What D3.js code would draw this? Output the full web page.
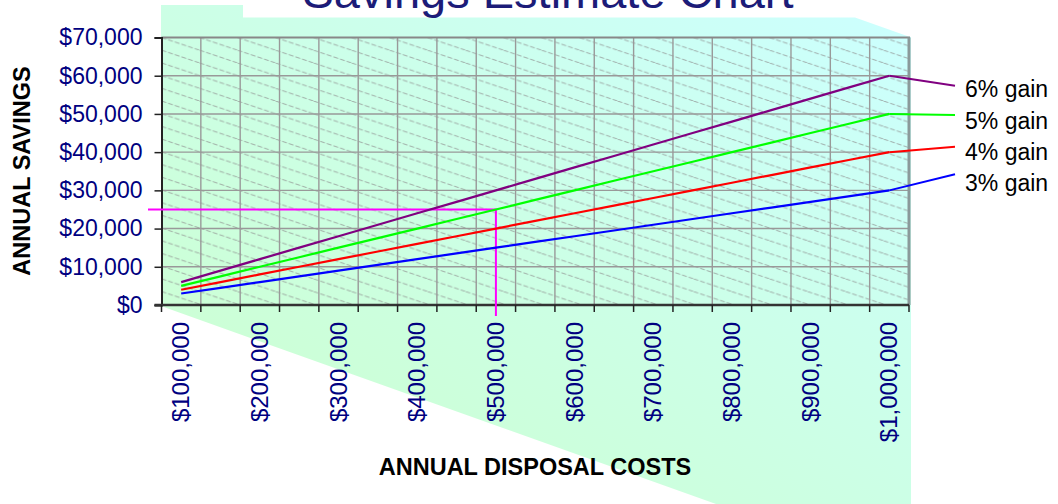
<!DOCTYPE html>
<html><head><meta charset="utf-8">
<script src="https://cdn.jsdelivr.net/npm/d3@7"></script>
<style>body{margin:0;background:#fff;} svg{display:block;font-family:Arial,"Liberation Sans",sans-serif;}</style>
</head><body><svg id="c" width="1058" height="504"></svg>
<script>
// ---- data ----
const categories = [100000,150000,200000,250000,300000,350000,400000,450000,500000,550000,600000,650000,700000,750000,800000,850000,900000,950000,1000000];
const gain3 = [3000,4500,6000,7500,9000,10500,12000,13500,15000,16500,18000,19500,21000,22500,24000,25500,27000,28500,30000];
const gain4 = [4000,6000,8000,10000,12000,14000,16000,18000,20000,22000,24000,26000,28000,30000,32000,34000,36000,38000,40000];
const gain5 = [5000,7500,10000,12500,15000,17500,20000,22500,25000,27500,30000,32500,35000,37500,40000,42500,45000,47500,50000];
const gain6 = [6000,9000,12000,15000,18000,21000,24000,27000,30000,33000,36000,39000,42000,45000,48000,51000,54000,57000,60000];
const seriesNames = ["6% gain","5% gain","4% gain","3% gain"];
const yTickValues = [0,10000,20000,30000,40000,50000,60000,70000];
const xTickLabels = ["$100,000","","$200,000","","$300,000","","$400,000","","$500,000","","$600,000","","$700,000","","$800,000","","$900,000","","$1,000,000"];
const markerCost = 500000, markerSaving = 25000;
const titleText = "Savings Estimate Chart";
const xTitle = "ANNUAL DISPOSAL COSTS", yTitle = "ANNUAL SAVINGS";

// ---- layout ----
const L = 161.5, R = 909, T = 37.5, B = 305;
const svg = d3.select("#c");
const x = d3.scaleBand().domain(categories).range([L, R]).padding(0);
const y = d3.scaleLinear().domain([0, 70000]).range([B, T]);
const cx = d => x(d) + x.bandwidth()/2;

const defs = svg.append("defs");
const grad = defs.append("linearGradient").attr("id","bg").attr("x1",0).attr("y1",1).attr("x2",1).attr("y2",0);
grad.append("stop").attr("offset","0%").attr("stop-color","#ccffcc");
grad.append("stop").attr("offset","100%").attr("stop-color","#ccffff");
const pat = defs.append("pattern").attr("id","hatch").attr("patternUnits","userSpaceOnUse")
  .attr("width",38).attr("height",12.7).attr("x",L).attr("y",T);
pat.append("line").attr("x1",0).attr("y1",0).attr("x2",38).attr("y2",12.7)
  .attr("stroke","#8f8f8f").attr("stroke-width",0.75).attr("stroke-dasharray","5 2");

// background shape
svg.append("path").attr("fill","url(#bg)")
  .attr("d","M161,5 L243,5 L243,17.5 L855,17.5 L910,37 L911,37 L911,504 L716,504 L161,306 Z");

// hatch in plot
svg.append("rect").attr("x",L).attr("y",T).attr("width",R-L).attr("height",B-T).attr("fill","url(#hatch)");

// title
svg.append("text").attr("x",548).attr("y",8).attr("text-anchor","middle")
  .attr("font-size",47).attr("fill","#1c1c78").text(titleText);

// gridlines
const g = svg.append("g");
const bounds = categories.map(c => x(c)).concat([R]);
g.selectAll(".vg").data(bounds.slice(1,-1)).join("line")
  .attr("x1",d=>d).attr("x2",d=>d).attr("y1",T).attr("y2",B)
  .attr("stroke","#999").attr("stroke-width",1.4);
g.selectAll(".hg").data(yTickValues.slice(1,-1)).join("line")
  .attr("x1",L).attr("x2",R).attr("y1",d=>y(d)).attr("y2",d=>y(d))
  .attr("stroke","#999").attr("stroke-width",1.4);
// borders
svg.append("line").attr("x1",L).attr("x2",R+1).attr("y1",T).attr("y2",T).attr("stroke","#888").attr("stroke-width",2);
svg.append("line").attr("x1",R).attr("x2",R).attr("y1",T).attr("y2",B).attr("stroke","#8a9a9a").attr("stroke-width",3);

// axes
const yAxis = d3.axisLeft(y).tickValues(yTickValues).tickSize(7).tickPadding(12)
  .tickFormat(d => "$" + d3.format(",")(d));
const ya = svg.append("g").attr("transform",`translate(${L},0)`).call(yAxis);
ya.select(".domain").attr("stroke","#222").attr("stroke-width",2);
ya.selectAll(".tick line").attr("stroke","#222").attr("stroke-width",1.5);
ya.selectAll(".tick text").attr("font-size",23).attr("fill","#000080").attr("font-family","Arial, Liberation Sans, sans-serif");

const xb = svg.append("g");
xb.append("line").attr("x1",L-7).attr("x2",R).attr("y1",B).attr("y2",B).attr("stroke","#333").attr("stroke-width",2.5);
xb.selectAll(".xt").data(bounds).join("line")
  .attr("x1",d=>d).attr("x2",d=>d).attr("y1",B).attr("y2",B+7).attr("stroke","#222").attr("stroke-width",1.5);
xb.selectAll(".xl").data(categories).join("text")
  .attr("transform",d=>`translate(${cx(d)+8},${B+17}) rotate(-90)`)
  .attr("text-anchor","end").attr("font-size",24).attr("fill","#000080")
  .text((d,i)=>xTickLabels[i]);

// axis titles
svg.append("text").attr("x",535).attr("y",475).attr("text-anchor","middle")
  .attr("font-size",23.5).attr("font-weight","bold").text(xTitle);
svg.append("text").attr("transform","translate(30,171) rotate(-90)").attr("text-anchor","middle")
  .attr("font-size",23.5).attr("font-weight","bold").text(yTitle);

// marker lines
svg.append("polyline").attr("fill","none").attr("stroke","#ff00ff").attr("stroke-width",2)
  .attr("points",`148,${y(markerSaving)} ${cx(markerCost)},${y(markerSaving)} ${cx(markerCost)},${B+11}`);

// series
const series = [
  {name:seriesNames[0], vals:gain6, color:"#800080", lx:955, ly:85.7, ty:97},
  {name:seriesNames[1], vals:gain5, color:"#00ff00", lx:955, ly:115, ty:128.5},
  {name:seriesNames[2], vals:gain4, color:"#ff0000", lx:955, ly:146.7, ty:159.5},
  {name:seriesNames[3], vals:gain3, color:"#0000ff", lx:955, ly:174.3, ty:190.5}
];
const line = d3.line().x((d,i)=>cx(categories[i])).y(d=>y(d));
series.forEach(s => {
  svg.append("path").attr("d", line(s.vals)).attr("fill","none").attr("stroke",s.color).attr("stroke-width",2.2);
  const last = s.vals.length-1;
  svg.append("line").attr("x1",cx(categories[last])).attr("y1",y(s.vals[last]))
    .attr("x2",s.lx).attr("y2",s.ly).attr("stroke",s.color).attr("stroke-width",2);
  svg.append("text").attr("x",965).attr("y",s.ty).attr("font-size",23).attr("fill","#000").text(s.name);
});
</script></body></html>
